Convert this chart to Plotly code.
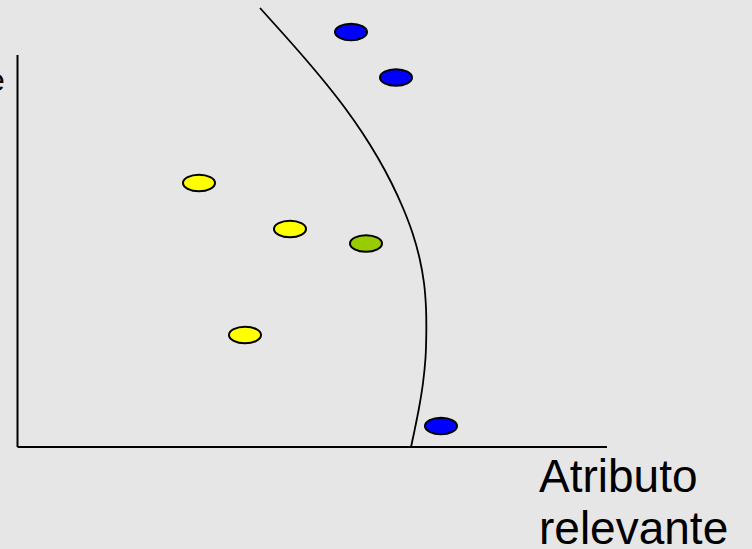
import plotly.graph_objects as go

# Coordinates: origin where the two attribute axes meet
AX_X_END = 589.5      # length of the "relevant attribute" axis
AX_Y_END = 392.0      # length of the "irrelevant attribute" axis

# Examples, by class
blue_x = [333.5, 378.5, 423.5]
blue_y = [415.0, 369.5, 21.0]
yellow_x = [181.5, 272.5, 227.5]
yellow_y = [264.0, 218.0, 112.0]
green_x = [348.5]
green_y = [203.5]

# Decision boundary
boundary_x = [242.5, 265.0, 287.0, 308.0, 327.5, 345.0, 360.5, 374.0, 385.5,
              395.0, 402.0, 406.5, 408.5, 408.8, 408.0, 405.5, 401.5, 396.5, 393.5]
boundary_y = [439.0, 414.0, 389.0, 364.0, 339.0, 314.0, 289.0, 264.0, 239.0,
              214.0, 189.0, 164.0, 139.0, 114.0, 89.0, 64.0, 39.0, 14.0, 0.0]

ELL_W, ELL_H = 16.0, 8.3
BG = "#e6e6e6"

fig = go.Figure()

fig.add_trace(go.Scatter(
    x=boundary_x, y=boundary_y, mode="lines",
    line=dict(color="black", width=1.8, shape="spline", smoothing=0.8),
    hoverinfo="skip", showlegend=False,
))

# Axis lines
fig.add_shape(type="line", xref="x", yref="y", x0=0, y0=0, x1=0, y1=AX_Y_END,
              line=dict(color="black", width=2))
fig.add_shape(type="line", xref="x", yref="y", x0=0, y0=0, x1=AX_X_END, y1=0,
              line=dict(color="black", width=2))

# Ellipse markers for each example
for xs, ys, col in [(blue_x, blue_y, "#0000ff"),
                    (yellow_x, yellow_y, "#ffff00"),
                    (green_x, green_y, "#99cc00")]:
    for cx, cy in zip(xs, ys):
        fig.add_shape(type="circle", xref="x", yref="y",
                      x0=cx - ELL_W, x1=cx + ELL_W, y0=cy - ELL_H, y1=cy + ELL_H,
                      fillcolor=col, line=dict(color="black", width=2))

FONT = "Liberation Sans, Arial, sans-serif"
fig.add_annotation(x=519.5, y=-28.5, xref="x", yref="y", text="Atributo",
                   showarrow=False, xanchor="left", yanchor="middle",
                   font=dict(family=FONT, size=46, color="black"))
fig.add_annotation(x=519.5, y=-80.5, xref="x", yref="y", text="relevante",
                   showarrow=False, xanchor="left", yanchor="middle",
                   font=dict(family=FONT, size=46, color="black"))
fig.add_annotation(x=-10.5, y=387, xref="x", yref="y", text="Atributo<br>irrelevante",
                   showarrow=False, xanchor="right", yanchor="middle", align="left",
                   font=dict(family=FONT, size=31, color="black"))

fig.update_xaxes(range=[-17.5, 734.5], visible=False, fixedrange=True)
fig.update_yaxes(range=[-102, 447], visible=False, fixedrange=True)
fig.update_layout(
    width=752, height=549,
    margin=dict(l=0, r=0, t=0, b=0),
    paper_bgcolor=BG, plot_bgcolor=BG,
    showlegend=False,
)

fig.write_html("out.html", config={"displayModeBar": False})
